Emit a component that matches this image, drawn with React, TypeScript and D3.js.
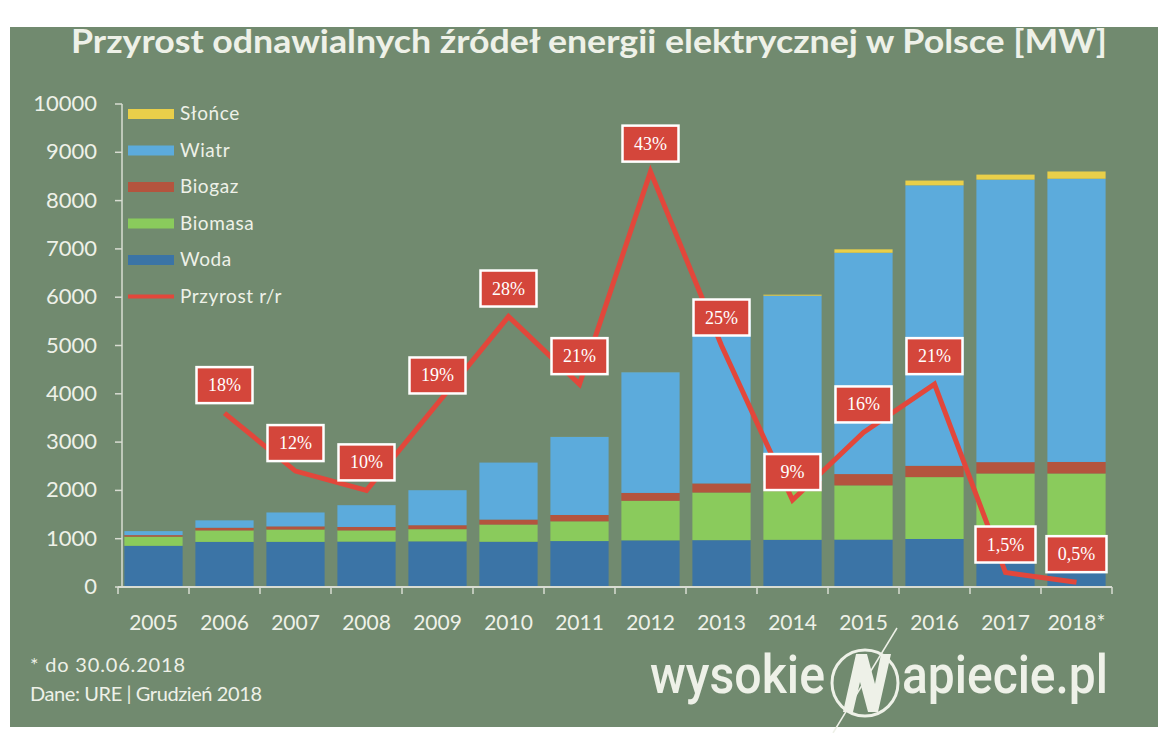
import React from "react";
import * as d3 from "d3";

const W = 1166;
const H = 733;

const years = ["2005", "2006", "2007", "2008", "2009", "2010", "2011", "2012", "2013", "2014", "2015", "2016", "2017", "2018*"];
const woda = [853, 934, 935, 940, 945, 937, 951, 966, 970, 977, 981, 994, 988, 988];
const biomasa = [189, 238, 255, 232, 252, 356, 409, 820, 986, 1008, 1123, 1281, 1362, 1362];
const biogaz = [32, 55, 65, 71, 82, 103, 131, 162, 188, 212, 234, 234, 235, 239];
const wiatr = [83, 153, 288, 451, 725, 1180, 1616, 2497, 3390, 3834, 4582, 5807, 5849, 5864];
const slonce = [0, 0, 0, 0, 0, 0, 1, 1, 2, 21, 71, 99, 104, 150];
const growth = [null, 18, 12, 10, 19, 28, 21, 43, 25, 9, 16, 21, 1.5, 0.5];
const growthLabels = ["", "18%", "12%", "10%", "19%", "28%", "21%", "43%", "25%", "9%", "16%", "21%", "1,5%", "0,5%"];
const yTicks = [0, 1000, 2000, 3000, 4000, 5000, 6000, 7000, 8000, 9000, 10000];

const seriesKeys = ["woda", "biomasa", "biogaz", "wiatr", "slonce"];
const colors: Record<string, string> = {
  woda: "#3b74a6",
  biomasa: "#8acb5c",
  biogaz: "#b4543e",
  wiatr: "#5cabdc",
  slonce: "#e9cf4a",
};
const legendItems = [
  { name: "Słońce", key: "slonce" },
  { name: "Wiatr", key: "wiatr" },
  { name: "Biogaz", key: "biogaz" },
  { name: "Biomasa", key: "biomasa" },
  { name: "Woda", key: "woda" },
  { name: "Przyrost r/r", key: "line" },
];

const bg = "#718a6f";
const fg = "#eef1e8";
const lineColor = "#e2473b";
const font = "Lato, 'Open Sans', sans-serif";

const App = () => {
  const x = d3.scaleBand<string>().domain(years).range([118, 1112]).paddingInner(0.18).paddingOuter(0.09);
  const y = d3.scaleLinear().domain([0, 10000]).range([587, 104]);
  const yPct = d3.scaleLinear().domain([0, 50]).range([587, 104]);

  const rows = years.map((yr, i) => ({
    year: yr,
    woda: woda[i],
    biomasa: biomasa[i],
    biogaz: biogaz[i],
    wiatr: wiatr[i],
    slonce: slonce[i],
  }));
  const stacked = d3.stack<any>().keys(seriesKeys)(rows);

  const cx = (yr: string) => (x(yr) as number) + x.bandwidth() / 2;
  const pts = years
    .map((yr, i) => ({ yr, v: growth[i], label: growthLabels[i] }))
    .filter((d) => d.v !== null) as { yr: string; v: number; label: string }[];
  const line = d3
    .line<{ yr: string; v: number }>()
    .x((d) => cx(d.yr))
    .y((d) => yPct(d.v));

  const step = x.step();
  const tickXs = years.map((yr) => (x(yr) as number) - (step - x.bandwidth()) / 2).concat([1112]);

  return (
    <svg width={W} height={H} style={{ position: "absolute", left: 0, top: 0, display: "block" }}>
      <rect x={0} y={0} width={W} height={H} fill="#ffffff" />
      <rect x={10} y={27} width={1148} height={700} fill={bg} />

      <text x={71} y={53} fill={fg} fontFamily={font} fontWeight={700} fontSize={32} textLength={1036} lengthAdjust="spacingAndGlyphs">
        Przyrost odnawialnych źródeł energii elektrycznej w Polsce [MW]
      </text>

      {/* bars */}
      {stacked.map((s) => (
        <g key={s.key} fill={colors[s.key]}>
          {s.map((d, i) => (
            <rect
              key={i}
              x={x(years[i])}
              y={y(d[1])}
              width={x.bandwidth()}
              height={Math.max(0, y(d[0]) - y(d[1]))}
            />
          ))}
        </g>
      ))}

      {/* y axis */}
      <line x1={122} x2={122} y1={104} y2={587} stroke="#d8dcd2" strokeWidth={1.5} />
      {yTicks.map((t) => (
        <g key={t}>
          <line x1={115} x2={122} y1={y(t)} y2={y(t)} stroke="#d8dcd2" strokeWidth={1.5} />
          <text x={97} y={y(t) + 7} textAnchor="end" fill={fg} fontFamily={font} fontSize={22}>
            {t}
          </text>
        </g>
      ))}

      {/* x axis */}
      <line x1={118} x2={1112} y1={587} y2={587} stroke="#d8dcd2" strokeWidth={2} />
      {tickXs.map((tx, i) => (
        <line key={i} x1={tx} x2={tx} y1={587} y2={594} stroke="#d8dcd2" strokeWidth={1.5} />
      ))}
      {years.map((yr) => (
        <text key={yr} x={cx(yr)} y={630} textAnchor="middle" fill={fg} fontFamily={font} fontSize={21}>
          {yr}
        </text>
      ))}

      {/* legend */}
      {legendItems.map((it, i) => {
        const ly = 114 + i * 36.5;
        return (
          <g key={it.name}>
            {it.key === "line" ? (
              <line x1={128} x2={174} y1={ly} y2={ly} stroke={lineColor} strokeWidth={4} />
            ) : (
              <rect x={128} y={ly - 5} width={46} height={10} fill={colors[it.key]} />
            )}
            <text x={180} y={ly + 6} fill={fg} fontFamily={font} fontSize={19} letterSpacing={0.6}>
              {it.name}
            </text>
          </g>
        );
      })}

      {/* growth line */}
      <path d={line(pts) || ""} fill="none" stroke={lineColor} strokeWidth={5} strokeLinejoin="miter" />
      {pts.map((p) => {
        const w = p.label.length > 3 ? 60 : 56;
        const ly = yPct(p.v) - 28;
        return (
          <g key={p.yr}>
            <rect x={cx(p.yr) - w / 2} y={ly - 18} width={w} height={36} fill="#d4463b" stroke="#ffffff" strokeWidth={2.5} />
            <text x={cx(p.yr)} y={ly + 6} textAnchor="middle" fill="#ffffff" fontFamily="'Liberation Serif', serif" fontSize={18}>
              {p.label}
            </text>
          </g>
        );
      })}

      {/* footer */}
      <text x={30} y={672} fill={fg} fontFamily={font} fontSize={20} textLength={155} lengthAdjust="spacing">
        * do 30.06.2018
      </text>
      <text x={30} y={701} fill={fg} fontFamily={font} fontSize={20} textLength={232} lengthAdjust="spacing">
        Dane: URE  |  Grudzień 2018
      </text>

      {/* logo */}
      <text x={650} y={693} fill={fg} fontFamily="'Roboto', sans-serif" fontWeight={500} fontSize={54} textLength={175} lengthAdjust="spacingAndGlyphs">
        wysokie
      </text>
      <circle cx={865} cy={683} r={33} fill="none" stroke={fg} strokeWidth={3} />
      <path d="M843,712 L853,712 L860,682 L868,712 L878,712 L891,654 L881,654 L875,684 L867,654 L856,654 Z" fill={fg} />
      <line x1={833} y1={733} x2={897} y2={628} stroke={fg} strokeWidth={1.5} />
      <text x={902} y={693} fill={fg} fontFamily="'Roboto', sans-serif" fontWeight={500} fontSize={54} textLength={206} lengthAdjust="spacingAndGlyphs">
        apiecie.pl
      </text>
    </svg>
  );
};

export default App;
